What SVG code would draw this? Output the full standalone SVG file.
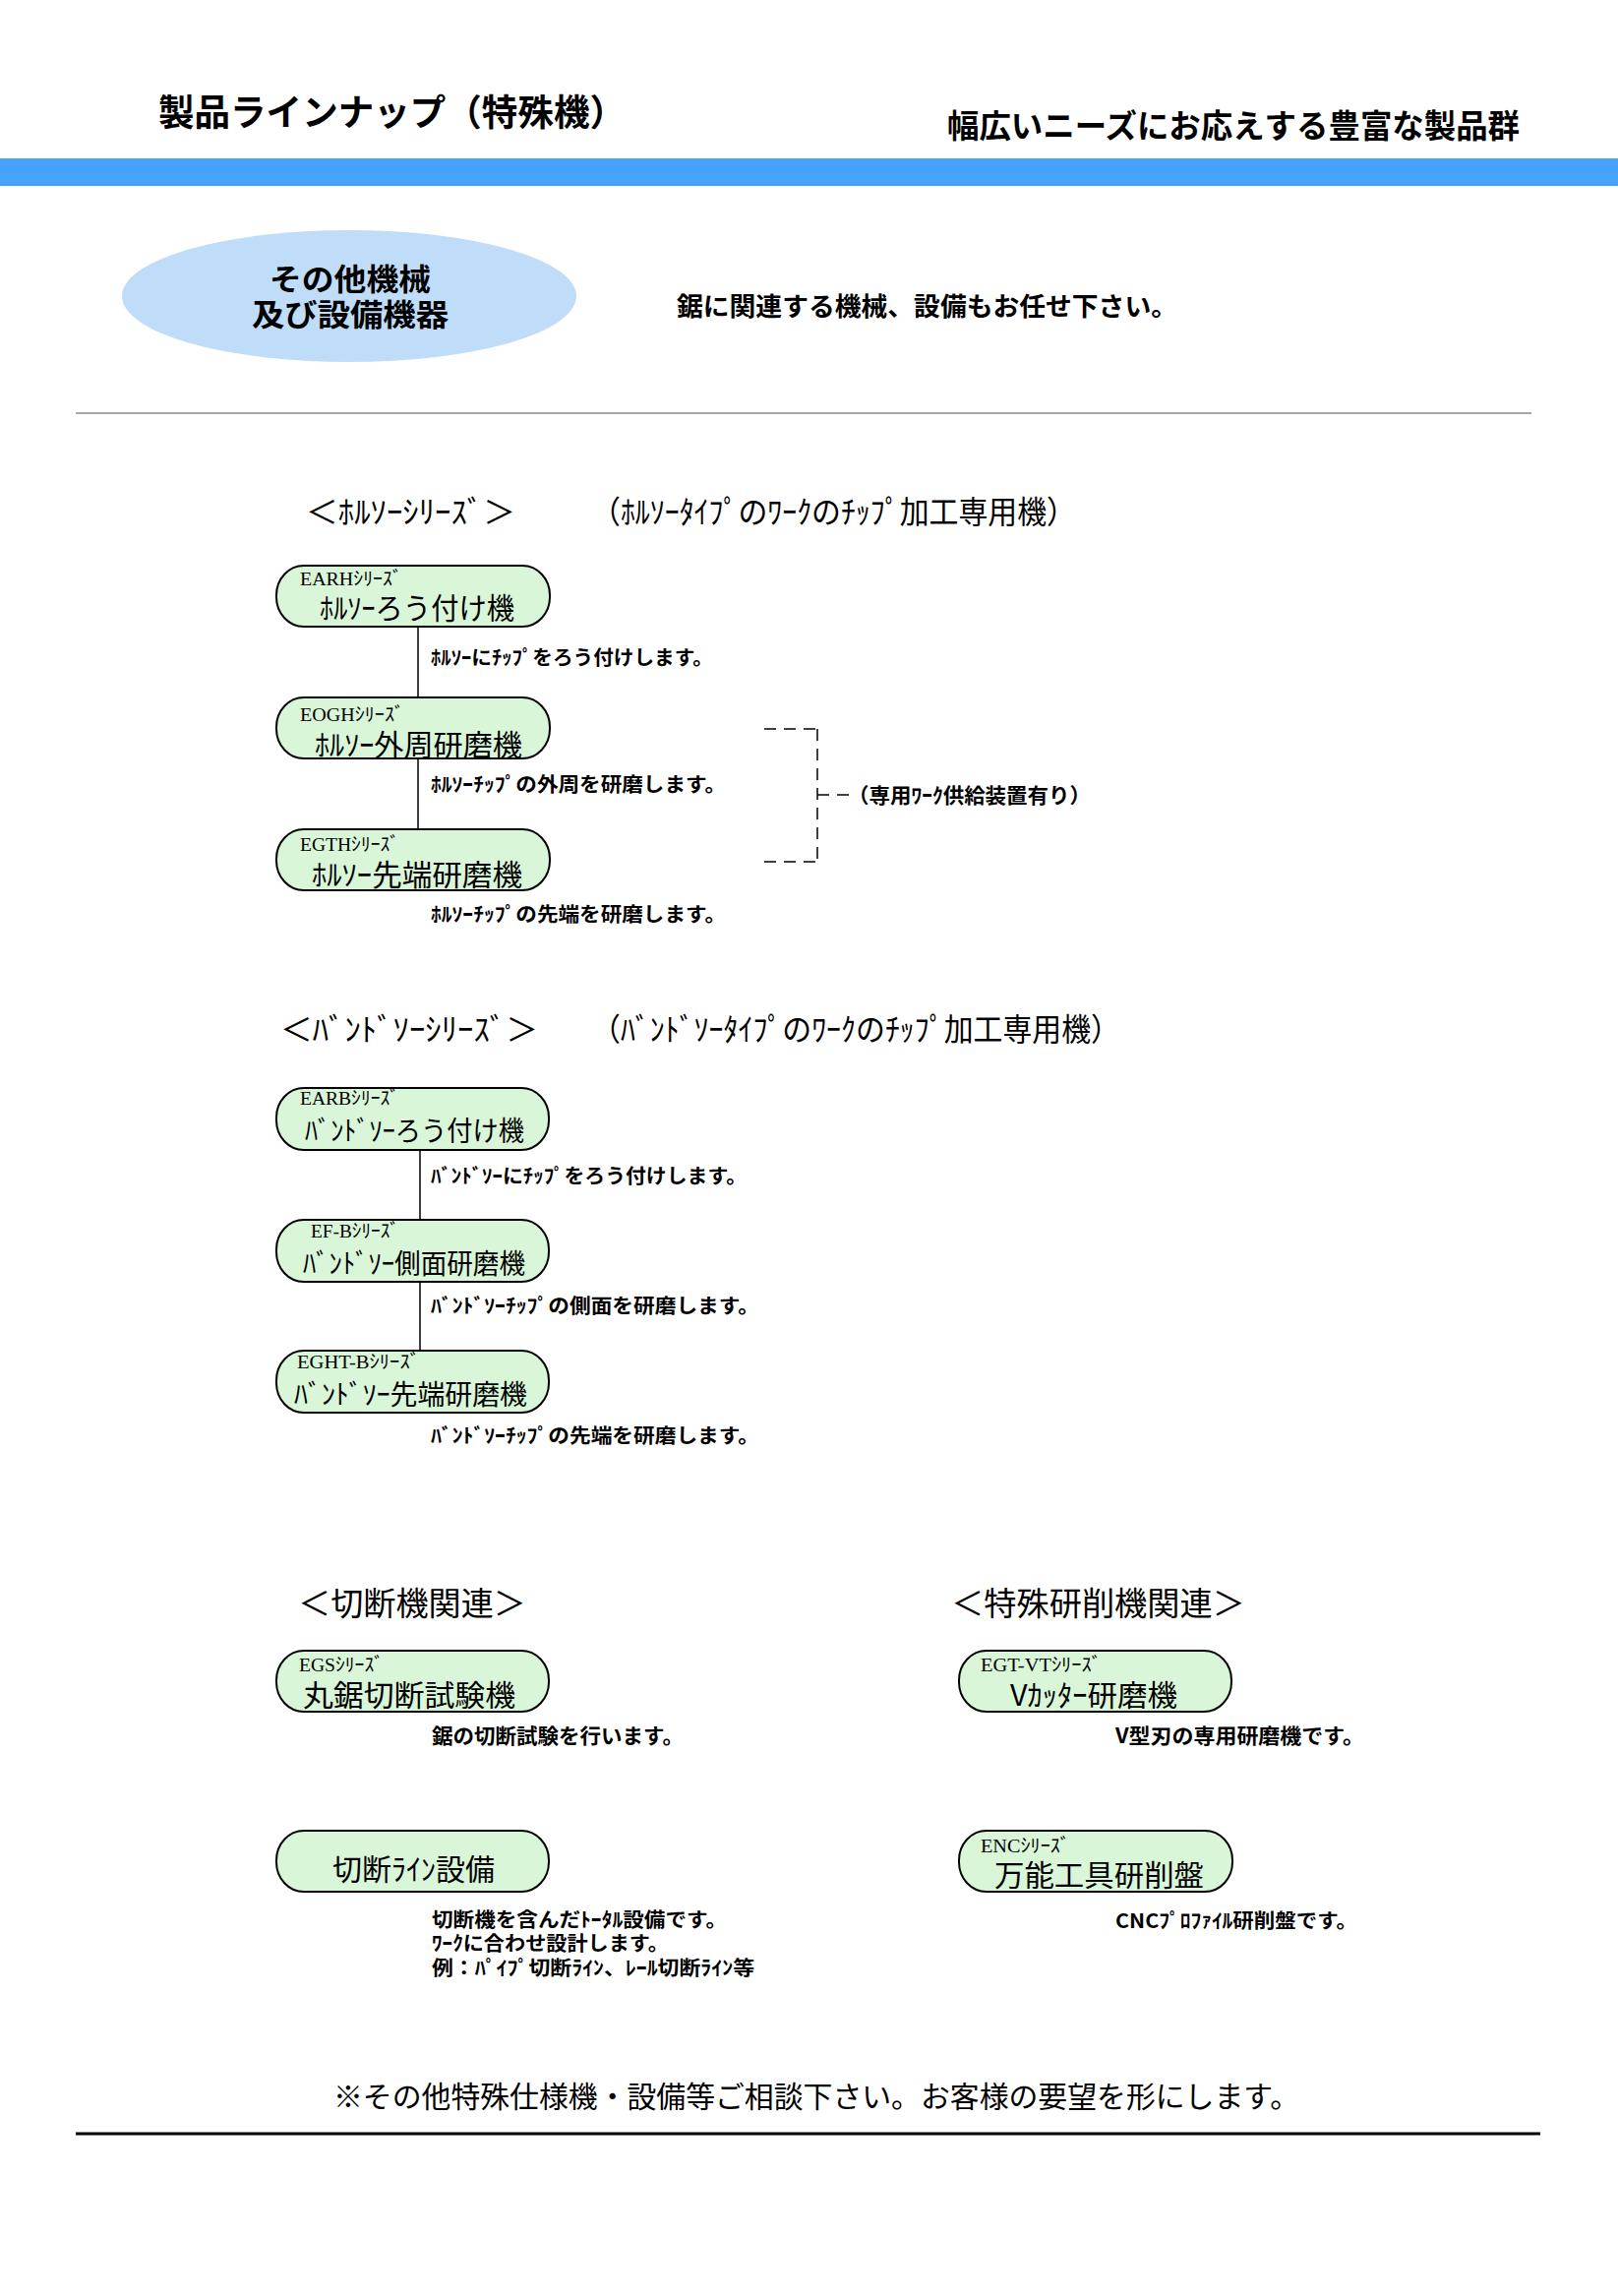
<svg xmlns="http://www.w3.org/2000/svg" width="1645" height="2334" viewBox="0 0 1645 2334">
<style>
text{font-family:"Noto Sans CJK JP","Noto Sans",sans-serif;fill:#000}
.ttl{font-size:37px;font-weight:bold}
.sub{font-size:33px;font-weight:bold}
.ell{font-size:31px;font-weight:bold}
.lead{font-size:26px;font-weight:bold}
.hdr{font-size:32px}
.sm{font-family:"Liberation Serif","Noto Sans CJK JP",serif;font-size:19px}
.lbl{font-size:30px}
.lbb{font-size:28px}
.desc{font-size:20px;font-weight:bold}
.foot{font-size:30px}
.node{fill:#d9f6d9;stroke:#000;stroke-width:2}
.conn{stroke:#000;stroke-width:1.5;fill:none}
.dash{stroke:#000;stroke-width:1.5;fill:none;stroke-dasharray:12 8}
</style>
<rect x="0" y="0" width="1645" height="2334" fill="#fff"/>
<g id="header">
<text class="ttl" x="161" y="128" textLength="475" lengthAdjust="spacingAndGlyphs">製品ラインナップ（特殊機）</text>
<text class="sub" x="963" y="140" textLength="582" lengthAdjust="spacingAndGlyphs">幅広いニーズにお応えする豊富な製品群</text>
<rect x="0" y="161" width="1645" height="28" fill="#45a3fb"/>
</g>
<g id="category">
<ellipse cx="355" cy="301" rx="231" ry="67" fill="#bfdcf8"/>
<text class="ell" x="274" y="295" textLength="164" lengthAdjust="spacingAndGlyphs">その他機械</text>
<text class="ell" x="256" y="331" textLength="200" lengthAdjust="spacingAndGlyphs">及び設備機器</text>
</g>
<text class="lead" x="688" y="321" textLength="509" lengthAdjust="spacingAndGlyphs">鋸に関連する機械、設備もお任せ下さい。</text>
<line x1="77" y1="420" x2="1557" y2="420" stroke="#888" stroke-width="1.5"/>

<g id="sec-horuso">
<text class="hdr" x="311" y="532" textLength="213" lengthAdjust="spacingAndGlyphs">＜ﾎﾙｿｰｼﾘｰｽﾞ＞</text>
<text class="hdr" x="601" y="532" textLength="493" lengthAdjust="spacingAndGlyphs">（ﾎﾙｿｰﾀｲﾌﾟのﾜｰｸのﾁｯﾌﾟ加工専用機）</text>
</g>

<g id="connectors">
<line class="conn" x1="425" y1="637" x2="425" y2="709"/>
<line class="conn" x1="425" y1="771" x2="425" y2="843"/>
<path class="dash" d="M777 741 H831"/>
<path class="dash" d="M831 741 V876"/>
<path class="dash" d="M777 876 H831"/>
<path class="dash" d="M831 808 H871"/>
<line class="conn" x1="427" y1="1169" x2="427" y2="1240"/>
<line class="conn" x1="427" y1="1303" x2="427" y2="1373"/>
</g>

<g id="node-earh">
<rect class="node" x="281" y="575" width="278" height="62" rx="28" ry="30"/>
<text class="sm" x="305" y="595" textLength="104" lengthAdjust="spacingAndGlyphs">EARHｼﾘｰｽﾞ</text>
<text class="lbl" x="325" y="629" textLength="198" lengthAdjust="spacingAndGlyphs">ﾎﾙｿｰろう付け機</text>
<text class="desc" x="438" y="676" textLength="287" lengthAdjust="spacingAndGlyphs">ﾎﾙｿｰにﾁｯﾌﾟをろう付けします。</text>
</g>
<g id="node-eogh">
<rect class="node" x="281" y="709" width="278" height="62" rx="28" ry="30"/>
<text class="sm" x="305" y="733" textLength="106" lengthAdjust="spacingAndGlyphs">EOGHｼﾘｰｽﾞ</text>
<text class="lbl" x="320" y="768" textLength="211" lengthAdjust="spacingAndGlyphs">ﾎﾙｿｰ外周研磨機</text>
<text class="desc" x="438" y="805" textLength="300" lengthAdjust="spacingAndGlyphs">ﾎﾙｿｰﾁｯﾌﾟの外周を研磨します。</text>
</g>
<g id="node-egth">
<rect class="node" x="281" y="843" width="278" height="62" rx="28" ry="30"/>
<text class="sm" x="305" y="865" textLength="101" lengthAdjust="spacingAndGlyphs">EGTHｼﾘｰｽﾞ</text>
<text class="lbl" x="317" y="900" textLength="214" lengthAdjust="spacingAndGlyphs">ﾎﾙｿｰ先端研磨機</text>
<text class="desc" x="438" y="937" textLength="300" lengthAdjust="spacingAndGlyphs">ﾎﾙｿｰﾁｯﾌﾟの先端を研磨します。</text>
</g>
<g id="note-feeder">
<text class="desc" style="font-size:21px" x="862" y="816" textLength="247" lengthAdjust="spacingAndGlyphs">（専用ﾜｰｸ供給装置有り）</text>
</g>

<g id="sec-bandsaw">
<text class="hdr" x="285" y="1058" textLength="262" lengthAdjust="spacingAndGlyphs">＜ﾊﾞﾝﾄﾞｿｰｼﾘｰｽﾞ＞</text>
<text class="hdr" x="601" y="1058" textLength="538" lengthAdjust="spacingAndGlyphs">（ﾊﾞﾝﾄﾞｿｰﾀｲﾌﾟのﾜｰｸのﾁｯﾌﾟ加工専用機）</text>
</g>
<g id="node-earb">
<rect class="node" x="281" y="1106" width="277" height="63" rx="28" ry="30"/>
<text class="sm" x="305" y="1123" textLength="101" lengthAdjust="spacingAndGlyphs">EARBｼﾘｰｽﾞ</text>
<text class="lbb" x="310" y="1160" textLength="223" lengthAdjust="spacingAndGlyphs">ﾊﾞﾝﾄﾞｿｰろう付け機</text>
<text class="desc" x="438" y="1203" textLength="321" lengthAdjust="spacingAndGlyphs">ﾊﾞﾝﾄﾞｿｰにﾁｯﾌﾟをろう付けします。</text>
</g>
<g id="node-efb">
<rect class="node" x="281" y="1240" width="277" height="63" rx="28" ry="30"/>
<text class="sm" x="316" y="1258" textLength="90" lengthAdjust="spacingAndGlyphs">EF-Bｼﾘｰｽﾞ</text>
<text class="lbb" x="308" y="1295" textLength="226" lengthAdjust="spacingAndGlyphs">ﾊﾞﾝﾄﾞｿｰ側面研磨機</text>
<text class="desc" x="438" y="1335" textLength="334" lengthAdjust="spacingAndGlyphs">ﾊﾞﾝﾄﾞｿｰﾁｯﾌﾟの側面を研磨します。</text>
</g>
<g id="node-eghtb">
<rect class="node" x="281" y="1373" width="277" height="63" rx="28" ry="30"/>
<text class="sm" x="302" y="1391" textLength="125" lengthAdjust="spacingAndGlyphs">EGHT-Bｼﾘｰｽﾞ</text>
<text class="lbb" x="299" y="1428" textLength="237" lengthAdjust="spacingAndGlyphs">ﾊﾞﾝﾄﾞｿｰ先端研磨機</text>
<text class="desc" x="438" y="1467" textLength="334" lengthAdjust="spacingAndGlyphs">ﾊﾞﾝﾄﾞｿｰﾁｯﾌﾟの先端を研磨します。</text>
</g>

<g id="sec-cutting">
<text class="hdr" style="font-size:33px" x="303" y="1642" textLength="232" lengthAdjust="spacingAndGlyphs">＜切断機関連＞</text>
</g>
<g id="sec-grinding">
<text class="hdr" style="font-size:33px" x="967" y="1642" textLength="299" lengthAdjust="spacingAndGlyphs">＜特殊研削機関連＞</text>
</g>
<g id="node-egs">
<rect class="node" x="281" y="1678" width="277" height="62" rx="28" ry="30"/>
<text class="sm" x="304" y="1699" textLength="86" lengthAdjust="spacingAndGlyphs">EGSｼﾘｰｽﾞ</text>
<text class="lbl" x="308" y="1734" textLength="216" lengthAdjust="spacingAndGlyphs">丸鋸切断試験機</text>
<text class="desc" style="font-size:21px" x="439" y="1772" textLength="256" lengthAdjust="spacingAndGlyphs">鋸の切断試験を行います。</text>
</g>
<g id="node-egtvt">
<rect class="node" x="975" y="1678" width="277" height="62" rx="28" ry="30"/>
<text class="sm" x="997" y="1699" textLength="123" lengthAdjust="spacingAndGlyphs">EGT-VTｼﾘｰｽﾞ</text>
<text class="lbl" x="1027" y="1734" textLength="170" lengthAdjust="spacingAndGlyphs">Vｶｯﾀｰ研磨機</text>
<text class="desc" style="font-size:21px" x="1134" y="1772" textLength="253" lengthAdjust="spacingAndGlyphs">V型刃の専用研磨機です。</text>
</g>
<g id="node-cutline">
<rect class="node" x="281" y="1861" width="277" height="62" rx="28" ry="30"/>
<text class="lbl" x="338" y="1911" textLength="165" lengthAdjust="spacingAndGlyphs">切断ﾗｲﾝ設備</text>
<text class="desc" x="439" y="1959" textLength="300" lengthAdjust="spacingAndGlyphs">切断機を含んだﾄｰﾀﾙ設備です。</text>
<text class="desc" x="439" y="1983" textLength="241" lengthAdjust="spacingAndGlyphs">ﾜｰｸに合わせ設計します。</text>
<text class="desc" x="439" y="2008" textLength="328" lengthAdjust="spacingAndGlyphs">例：ﾊﾟｲﾌﾟ切断ﾗｲﾝ、ﾚｰﾙ切断ﾗｲﾝ等</text>
</g>
<g id="node-enc">
<rect class="node" x="975" y="1861" width="278" height="62" rx="28" ry="30"/>
<text class="sm" x="997" y="1883" textLength="91" lengthAdjust="spacingAndGlyphs">ENCｼﾘｰｽﾞ</text>
<text class="lbl" x="1011" y="1917" textLength="213" lengthAdjust="spacingAndGlyphs">万能工具研削盤</text>
<text class="desc" x="1134" y="1960" textLength="246" lengthAdjust="spacingAndGlyphs">CNCﾌﾟﾛﾌｧｲﾙ研削盤です。</text>
</g>

<g id="footer">
<text class="foot" x="339" y="2142" textLength="982" lengthAdjust="spacingAndGlyphs">※その他特殊仕様機・設備等ご相談下さい。お客様の要望を形にします。</text>
<line x1="77" y1="2169" x2="1566" y2="2169" stroke="#000" stroke-width="3"/>
</g>
</svg>
